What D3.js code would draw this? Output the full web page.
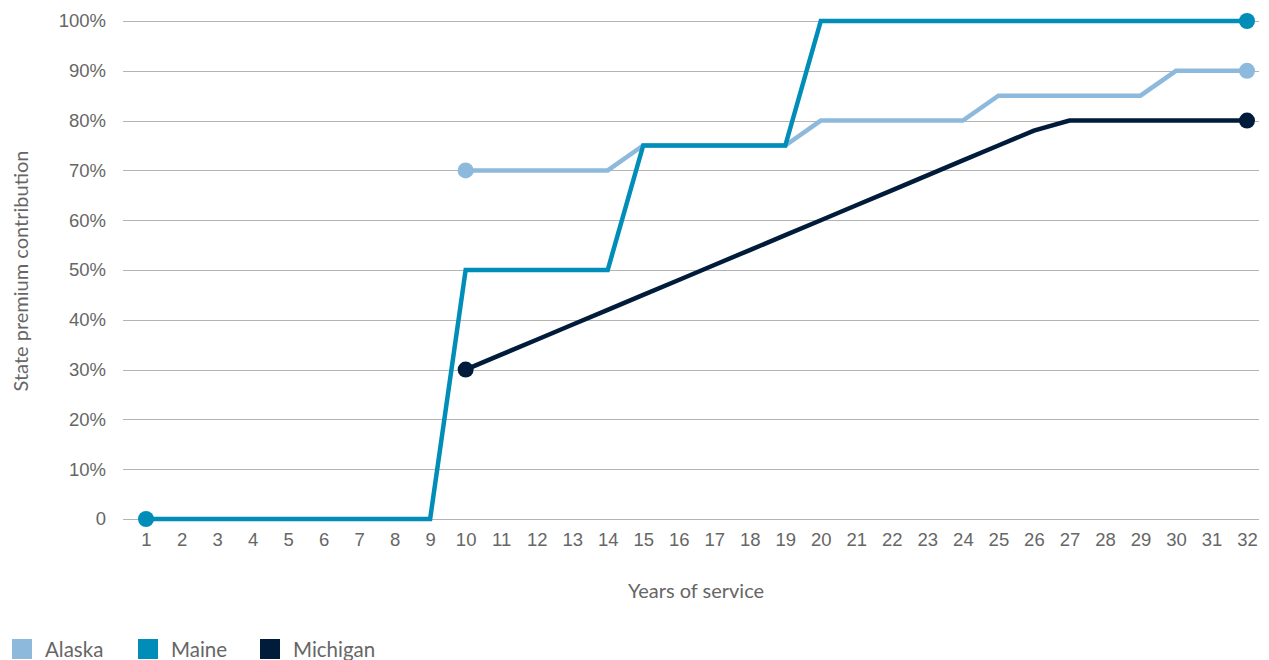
<!DOCTYPE html>
<html>
<head>
<meta charset="utf-8">
<script src="https://cdn.jsdelivr.net/npm/d3@7"></script>
<style>
  html, body { margin: 0; padding: 0; background: #fff; }
  svg { display: block; font-family: Lato, "Open Sans", sans-serif; }
</style>
</head>
<body>
<svg id="chart" width="1269" height="660"></svg>
<script>
// Years of service on the x axis
const years = [1,2,3,4,5,6,7,8,9,10,11,12,13,14,15,16,17,18,19,20,21,22,23,24,25,26,27,28,29,30,31,32];

// State premium contribution (%) by year of service; null = not eligible
const alaska   = [null,null,null,null,null,null,null,null,null,70,70,70,70,70,75,75,75,75,75,80,80,80,80,80,85,85,85,85,85,90,90,90];
const maine    = [0,0,0,0,0,0,0,0,0,50,50,50,50,50,75,75,75,75,75,100,100,100,100,100,100,100,100,100,100,100,100,100];
const michigan = [null,null,null,null,null,null,null,null,null,30,33,36,39,42,45,48,51,54,57,60,63,66,69,72,75,78,80,80,80,80,80,80];

const yTicks = [0,10,20,30,40,50,60,70,80,90,100];
const yTickLabels = ["0","10%","20%","30%","40%","50%","60%","70%","80%","90%","100%"];

const seriesNames = ["Alaska","Maine","Michigan"];
const seriesColors = ["#8dbadc","#008eb9","#011c3a"];
const seriesValues = [alaska, maine, michigan];

const svg = d3.select("#chart");
const textColor = "#666666";

const x = d3.scaleLinear().domain([1, 32]).range([146, 1247]);
const y = d3.scaleLinear().domain([0, 100]).range([519, 21]);

// Horizontal gridlines with percentage labels
const yAxis = d3.axisLeft(y)
  .tickValues(yTicks)
  .tickFormat((d, i) => yTickLabels[i])
  .tickSize(0)
  .tickPadding(17);

const gy = svg.append("g").attr("transform", "translate(123,0)").call(yAxis);
gy.select(".domain").remove();
gy.selectAll("text")
  .attr("fill", textColor)
  .style("font-size", "18.5px");

svg.append("g")
  .selectAll("line")
  .data(yTicks)
  .join("line")
  .attr("x1", 123).attr("x2", 1259)
  .attr("y1", d => Math.round(y(d)) + 0.5)
  .attr("y2", d => Math.round(y(d)) + 0.5)
  .attr("stroke", "#b3b3b3")
  .attr("stroke-width", 1.2);

// Year labels along the bottom
const xAxis = d3.axisBottom(x)
  .tickValues(years)
  .tickFormat(d3.format("d"))
  .tickSize(0)
  .tickPadding(14);

const gx = svg.append("g").attr("transform", "translate(0,519)").call(xAxis);
gx.select(".domain").remove();
gx.selectAll("text")
  .attr("fill", textColor)
  .style("font-size", "18.5px");

// Axis titles
svg.append("text")
  .attr("x", 696).attr("y", 598)
  .attr("text-anchor", "middle")
  .attr("fill", textColor)
  .style("font-size", "20px")
  .text("Years of service");

svg.append("text")
  .attr("transform", "translate(28,271) rotate(-90)")
  .attr("text-anchor", "middle")
  .attr("fill", textColor)
  .style("font-size", "20px")
  .text("State premium contribution");

// Lines with end-point markers
const line = d3.line()
  .defined(d => d.v !== null)
  .x(d => x(d.year))
  .y(d => y(d.v));

seriesValues.forEach((vals, i) => {
  const pts = years.map((yr, j) => ({ year: yr, v: vals[j] }));
  const valid = pts.filter(p => p.v !== null);
  const g = svg.append("g");
  g.append("path")
    .datum(pts)
    .attr("d", line)
    .attr("fill", "none")
    .attr("stroke", seriesColors[i])
    .attr("stroke-width", 4.5)
    .attr("stroke-linejoin", "miter");
  g.selectAll("circle")
    .data([valid[0], valid[valid.length - 1]])
    .join("circle")
    .attr("cx", d => x(d.year))
    .attr("cy", d => y(d.v))
    .attr("r", 8)
    .attr("fill", seriesColors[i]);
});

// Legend
const legendX = [12, 138, 260];
const legend = svg.append("g");
seriesNames.forEach((name, i) => {
  legend.append("rect")
    .attr("x", legendX[i]).attr("y", 639)
    .attr("width", 20).attr("height", 20)
    .attr("fill", seriesColors[i]);
  legend.append("text")
    .attr("x", legendX[i] + 33).attr("y", 657)
    .attr("fill", textColor)
    .style("font-size", "20.5px")
    .text(name);
});
</script>
</body>
</html>
